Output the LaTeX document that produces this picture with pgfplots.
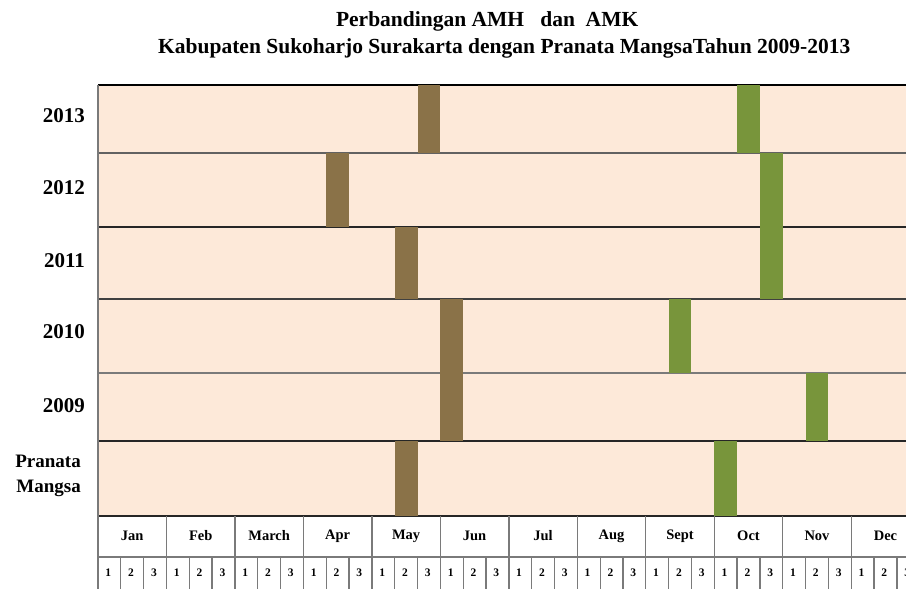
\documentclass[border=0pt]{standalone}
\usepackage{fontspec}
\setmainfont{Liberation Serif}
\usepackage{pgfplots}
\pgfplotsset{compat=1.18}
\definecolor{peach}{HTML}{FDE9D9}
\definecolor{amh}{HTML}{8A7248}
\definecolor{amk}{HTML}{78953B}
\definecolor{gline}{HTML}{7A7A7A}
\begin{document}
\begin{tikzpicture}
\begin{axis}[
  scale only axis,
  width=808pt, height=504pt,
  xmin=0, xmax=35.4,
  ymin=85, ymax=589,
  y dir=reverse,
  axis line style={draw=none},
  xtick=\empty, ytick=\empty,
  clip=false,
]
% background of the rows
\fill[peach] (axis cs:0,85) rectangle (axis cs:35.4,516);
% row separators
\draw[black, line width=1.1pt] (axis cs:0,85) -- (axis cs:35.4,85);
\draw[gline!80!black, line width=1.1pt] (axis cs:0,153) -- (axis cs:35.4,153);
\draw[black!85, line width=1.1pt] (axis cs:0,227) -- (axis cs:35.4,227);
\draw[black!75, line width=1.1pt] (axis cs:0,299) -- (axis cs:35.4,299);
\draw[gline, line width=1.1pt] (axis cs:0,373) -- (axis cs:35.4,373);
\draw[black!85, line width=1.1pt] (axis cs:0,441) -- (axis cs:35.4,441);
\draw[black!85, line width=1.1pt] (axis cs:0,516) -- (axis cs:35.4,516);
\draw[gline, line width=1.1pt] (axis cs:0,557) -- (axis cs:35.4,557);

% AMH (brown)
\addplot[fill=amh, draw=none] coordinates {(14,85) (15,85) (15,153) (14,153)} -- cycle;
\addplot[fill=amh, draw=none] coordinates {(10,153) (11,153) (11,227) (10,227)} -- cycle;
\addplot[fill=amh, draw=none] coordinates {(13,227) (14,227) (14,299) (13,299)} -- cycle;
\addplot[fill=amh, draw=none] coordinates {(15,299) (16,299) (16,373) (15,373)} -- cycle;
\addplot[fill=amh, draw=none] coordinates {(15,373) (16,373) (16,441) (15,441)} -- cycle;
\addplot[fill=amh, draw=none] coordinates {(13,441) (14,441) (14,516) (13,516)} -- cycle;
% AMK (green)
\addplot[fill=amk, draw=none] coordinates {(28,85) (29,85) (29,153) (28,153)} -- cycle;
\addplot[fill=amk, draw=none] coordinates {(29,153) (30,153) (30,227) (29,227)} -- cycle;
\addplot[fill=amk, draw=none] coordinates {(29,227) (30,227) (30,299) (29,299)} -- cycle;
\addplot[fill=amk, draw=none] coordinates {(25,299) (26,299) (26,373) (25,373)} -- cycle;
\addplot[fill=amk, draw=none] coordinates {(31,373) (32,373) (32,441) (31,441)} -- cycle;
\addplot[fill=amk, draw=none] coordinates {(27,441) (28,441) (28,516) (27,516)} -- cycle;

% left border
\draw[gline, line width=1.3pt] (axis cs:0,85) -- (axis cs:0,589);
% month boundaries
\pgfplotsinvokeforeach{3,6,9,12,15,18,21,24,27,30,33}{
  \draw[gline, line width=1.3pt] (axis cs:#1,516) -- (axis cs:#1,589);
}
% dasarian boundaries
\pgfplotsinvokeforeach{1,2,4,5,7,8,10,11,13,14,16,17,19,20,22,23,25,26,28,29,31,32,34,35}{
  \draw[gline, line width=1.3pt] (axis cs:#1,557) -- (axis cs:#1,589);
}
% month names
\begin{scope}[every node/.style={font=\fontsize{14.5}{16}\selectfont\bfseries}]
\node at (axis cs:1.5,536) {Jan};
\node at (axis cs:4.5,536) {Feb};
\node at (axis cs:7.5,536) {March};
\node at (axis cs:10.5,536) {Apr};
\node at (axis cs:13.5,536) {May};
\node at (axis cs:16.5,536) {Jun};
\node at (axis cs:19.5,536) {Jul};
\node at (axis cs:22.5,536) {Aug};
\node at (axis cs:25.5,536) {Sept};
\node at (axis cs:28.5,536) {Oct};
\node at (axis cs:31.5,536) {Nov};
\node at (axis cs:34.5,536) {Dec};
\end{scope}
% dasarian numbers
\pgfplotsinvokeforeach{0.45,3.45,6.45,9.45,12.45,15.45,18.45,21.45,24.45,27.45,30.45,33.45}{
  \node[font=\fontsize{11.5}{13}\selectfont\bfseries] at (axis cs:#1,573) {1};
  \node[font=\fontsize{11.5}{13}\selectfont\bfseries] at (axis cs:#1+1,573) {2};
  \node[font=\fontsize{11.5}{13}\selectfont\bfseries] at (axis cs:#1+2,573) {3};
}
% row labels
\begin{scope}[every node/.style={anchor=east, font=\fontsize{21}{23}\selectfont\bfseries}]
\node at (axis cs:-0.42,116) {2013};
\node at (axis cs:-0.42,187.5) {2012};
\node at (axis cs:-0.42,261) {2011};
\node at (axis cs:-0.42,332) {2010};
\node at (axis cs:-0.42,405.5) {2009};
\node[align=right, font=\fontsize{19}{25}\selectfont\bfseries] at (axis cs:-0.6,476) {Pranata\\Mangsa};
\end{scope}
% title
\node[font=\fontsize{21.5}{24}\selectfont\bfseries] at (axis cs:17.05,21.5) {Perbandingan AMH\ \ \ dan\ \ AMK};
\node[font=\fontsize{21.5}{24}\selectfont\bfseries] at (axis cs:17.8,48.5) {Kabupaten Sukoharjo Surakarta dengan Pranata MangsaTahun 2009-2013};
\coordinate (bbsw) at (axis cs:-4.2935,589);
\coordinate (bbne) at (axis cs:35.4,0);
\end{axis}
\pgfresetboundingbox
\useasboundingbox (bbsw) rectangle (bbne);
\end{tikzpicture}
\end{document}
